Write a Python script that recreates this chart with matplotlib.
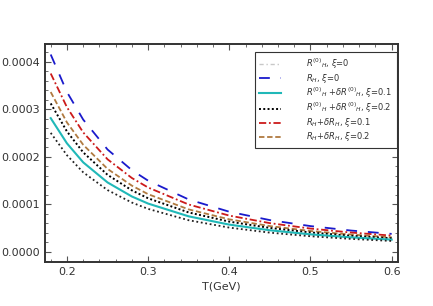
import matplotlib
matplotlib.use("Agg")
import matplotlib.pyplot as plt
from matplotlib.lines import Line2D
from matplotlib.ticker import MultipleLocator

# temperature grid (GeV) and curves
T = [0.18, 0.20, 0.22, 0.25, 0.28, 0.30, 0.35, 0.40, 0.45, 0.50, 0.55, 0.60]

r0_xi0 = [2.50, 2.03, 1.67, 1.296, 1.033, 0.900, 0.661, 0.506, 0.400, 0.324, 0.268, 0.225]
rh_xi0 = [4.15, 3.36, 2.78, 2.15, 1.715, 1.494, 1.098, 0.840, 0.664, 0.538, 0.444, 0.374]
r0d_xi01 = [2.81, 2.28, 1.88, 1.457, 1.161, 1.012, 0.743, 0.569, 0.450, 0.364, 0.301, 0.253]
r0d_xi02 = [3.12, 2.53, 2.09, 1.617, 1.290, 1.123, 0.825, 0.632, 0.499, 0.404, 0.334, 0.281]
rhd_xi01 = [3.75, 3.04, 2.51, 1.944, 1.550, 1.350, 0.992, 0.759, 0.600, 0.486, 0.402, 0.338]
rhd_xi02 = [3.36, 2.72, 2.25, 1.742, 1.389, 1.210, 0.889, 0.680, 0.538, 0.435, 0.360, 0.302]

labels = [
    r"$R^{(0)}{}_H$, $\xi$=0",
    r"$R_H$, $\xi$=0",
    r"$R^{(0)}{}_H$ +$\delta R^{(0)}{}_H$, $\xi$=0.1",
    r"$R^{(0)}{}_H$ +$\delta R^{(0)}{}_H$, $\xi$=0.2",
    r"$R_H$+$\delta R_H$, $\xi$=0.1",
    r"$R_H$+$\delta R_H$, $\xi$=0.2",
]

plt.rcParams["mathtext.fontset"] = "dejavusans"

fig = plt.figure(figsize=(4.33, 3.06), dpi=100)
ax = fig.add_axes([0.104, 0.143, 0.815, 0.713])

def sc(v):
    return [x * 1e-4 for x in v]

ax.plot(T, sc(rh_xi0), color="#1a1acc", lw=1.3, dashes=(6, 6))
ax.plot(T, sc(rhd_xi01), color="#cc1a1a", lw=1.3, dashes=(4, 1.5, 1, 1.5))
ax.plot(T, sc(rhd_xi02), color="#b07a40", lw=1.3, dashes=(3, 1.5))
ax.plot(T, sc(r0d_xi02), color="black", lw=1.4, dashes=(1, 1.2))
ax.plot(T, sc(r0d_xi01), color="#20b8b8", lw=1.5)
ax.plot(T, sc(r0_xi0), color="#222222", lw=1.3, dashes=(1, 1.5))

ax.set_xlim(0.173, 0.6077)
ax.set_ylim(-0.0000223, 0.000437)
ax.xaxis.set_major_locator(MultipleLocator(0.1))
ax.xaxis.set_minor_locator(MultipleLocator(0.02))
ax.yaxis.set_major_locator(MultipleLocator(0.0001))
ax.yaxis.set_minor_locator(MultipleLocator(0.00002))
ax.yaxis.set_major_formatter(matplotlib.ticker.FormatStrFormatter("%.4f"))
ax.xaxis.set_major_formatter(matplotlib.ticker.FormatStrFormatter("%.1f"))
ax.tick_params(which="both", direction="in", top=True, right=True,
               colors="#555555", labelcolor="#333333", labelsize=8)
ax.tick_params(which="major", length=4, width=0.8)
ax.tick_params(which="minor", length=2, width=0.6)
for s in ax.spines.values():
    s.set_linewidth(1.4)
    s.set_color("#333333")
ax.set_xlabel("T(GeV)", fontsize=8, color="#333333", labelpad=3)

handles = [
    Line2D([], [], color="#c8c8c8", lw=1.0, dashes=(3, 2, 1, 2)),
    Line2D([], [], color="#1a1acc", lw=1.3, dashes=(6, 6)),
    Line2D([], [], color="#20b8b8", lw=1.5),
    Line2D([], [], color="black", lw=1.4, dashes=(1, 1.2)),
    Line2D([], [], color="#cc1a1a", lw=1.3, dashes=(4, 1.5, 1, 1.5)),
    Line2D([], [], color="#b07a40", lw=1.3, dashes=(3, 1.5)),
]
leg = ax.legend(handles, labels, loc="upper right", bbox_to_anchor=(0.996, 0.965),
                borderaxespad=0, fontsize=6, handlelength=2.6, handletextpad=3.0,
                labelspacing=0.12, fancybox=False, framealpha=1, borderpad=0.55)
leg.get_frame().set_edgecolor("#333333")
leg.get_frame().set_linewidth(0.8)
for t in leg.get_texts():
    t.set_color("#333333")

fig.savefig("out.png", dpi=100)
